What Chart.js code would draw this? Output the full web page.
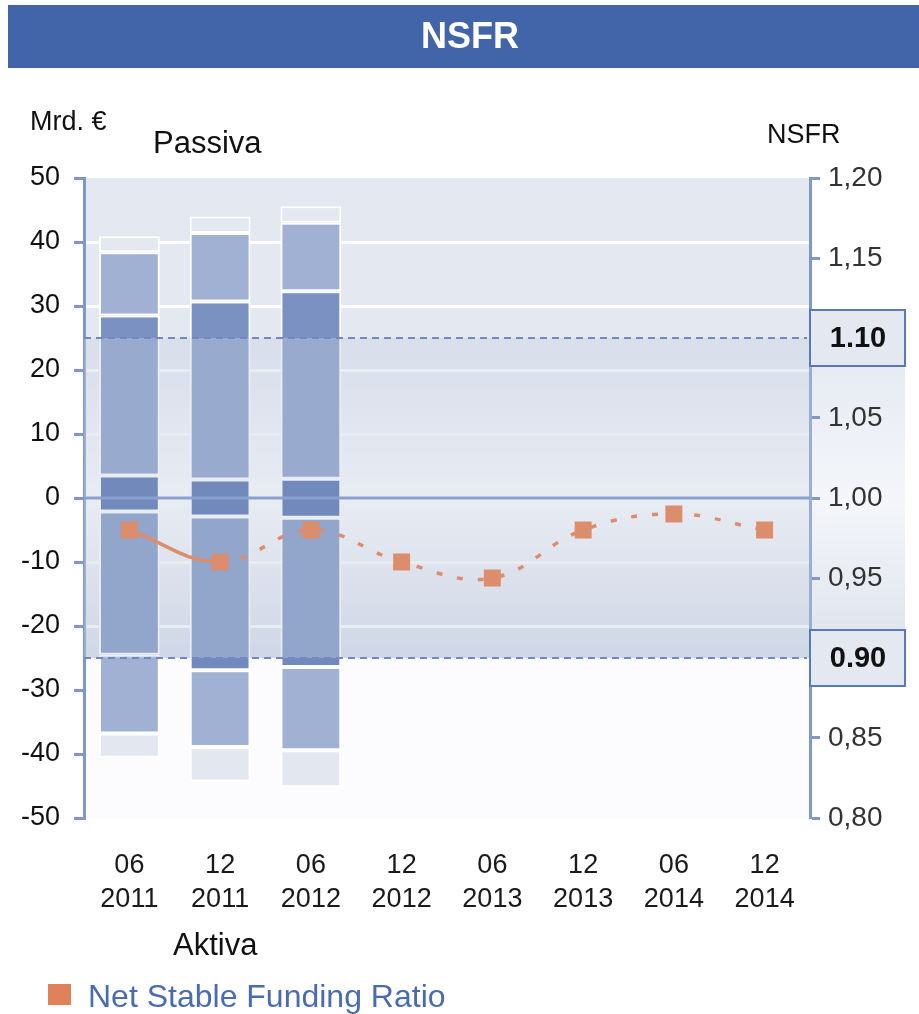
<!DOCTYPE html>
<html>
<head>
<meta charset="utf-8">
<script src="https://cdn.jsdelivr.net/npm/chart.js@4/dist/chart.umd.min.js"></script>
<style>
  html, body { margin: 0; padding: 0; background: #ffffff; }
  #wrap { position: relative; width: 919px; height: 1014px; }
</style>
</head>
<body>
<div id="wrap"><canvas id="myChart" width="919" height="1014"></canvas></div>
<script>
// categories (month / year)
const categories = [['06', '2011'], ['12', '2011'], ['06', '2012'], ['12', '2012'],
                    ['06', '2013'], ['12', '2013'], ['06', '2014'], ['12', '2014']];

// NSFR ratio (right axis)
const nsfr = [0.98, 0.96, 0.98, 0.96, 0.95, 0.98, 0.99, 0.98];

// bar segments in Mrd. EUR, [from, to]
// Aktiva (below zero)
const negLight = [[-40.6, -36.8], [-44.3, -38.9], [-45.2, -39.4]];
const negMid   = [[-36.8, -24.5], [-38.9, -26.9], [-39.4, -26.4]];
const negDark  = [[-24.5, -2.1],  [-26.9, -2.9],  [-26.4, -3.1]];
// block around zero
const core     = [[-2.1, 3.5],    [-2.9, 2.9],    [-3.1, 3.0]];
// Passiva (above zero)
const posDark  = [[3.5, 28.5],    [2.9, 30.7],    [3.0, 32.3]];
const posMid   = [[28.5, 38.4],   [30.7, 41.4],   [32.3, 43.0]];
const posTop   = [[38.4, 40.9],   [41.4, 44.0],   [43.0, 45.6]];

const fontFam = "'Liberation Sans', Arial, sans-serif";
const axisBlue = '#7f98c9';
const orange = '#dc8d6c';

function barSet(label, data, color) {
    return {
        type: 'bar',
        label: label,
        data: data,
        backgroundColor: color,
        borderColor: '#ffffff',
        borderWidth: 2,
        borderSkipped: false,
        grouped: false,
        barPercentage: 0.67,
        categoryPercentage: 1,
        yAxisID: 'y',
        order: 1
    };
}

// background, band overlay, reference lines and texts
const nsfrDecor = {
    id: 'nsfrDecor',
    beforeDraw(chart) {
        const { ctx, chartArea: { left, right, top, bottom }, scales: { y } } = chart;
        const yHi = y.getPixelForValue(25);
        const yLo = y.getPixelForValue(-25);
        ctx.save();
        ctx.fillStyle = '#e4e8f1';
        ctx.fillRect(left, top, right - left, yHi - top);

        let g = ctx.createLinearGradient(0, yHi, 0, yLo);
        g.addColorStop(0, '#e4e8f1');
        g.addColorStop(0.5, '#ffffff');
        g.addColorStop(1, '#d6dce9');
        ctx.fillStyle = g;
        ctx.fillRect(left, yHi, right - left, yLo - yHi);

        // strip behind the right labels
        g = ctx.createLinearGradient(0, yHi, 0, yLo);
        g.addColorStop(0, '#e4e8f1');
        g.addColorStop(0.5, '#f4f6fa');
        g.addColorStop(1, '#dde2ec');
        ctx.fillStyle = g;
        ctx.fillRect(right, yHi, 95, yLo - yHi);

        ctx.fillStyle = '#fcfcfe';
        ctx.fillRect(left, yLo, right - left, bottom - yLo);
        ctx.restore();
    },
    beforeDatasetDraw(chart, args) {
        if (args.meta.type !== 'line') return;
        const { ctx, chartArea: { left, right }, scales: { y } } = chart;
        const yHi = y.getPixelForValue(25);
        const yLo = y.getPixelForValue(-25);
        const y0 = y.getPixelForValue(0);
        ctx.save();
        // translucent band between 0.90 and 1.10
        ctx.fillStyle = 'rgba(197, 208, 225, 0.4)';
        ctx.fillRect(left, yHi, right - left + 2, yLo - yHi);

        // zero line
        ctx.strokeStyle = '#8aa1cf';
        ctx.lineWidth = 3;
        ctx.beginPath();
        ctx.moveTo(left, y0);
        ctx.lineTo(right, y0);
        ctx.stroke();

        // dashed limits
        ctx.strokeStyle = '#7288c0';
        ctx.lineWidth = 2;
        ctx.setLineDash([7, 5]);
        [yHi, yLo].forEach(py => {
            ctx.beginPath();
            ctx.moveTo(left, py);
            ctx.lineTo(right - 3, py);
            ctx.stroke();
        });
        ctx.restore();
    },
    afterDraw(chart) {
        const { ctx, chartArea: { right }, scales: { y1 } } = chart;
        ctx.save();

        // boxed limit labels
        [[1.10, '1.10'], [0.90, '0.90']].forEach(([v, txt]) => {
            const py = y1.getPixelForValue(v);
            ctx.fillStyle = '#e4e8f1';
            ctx.fillRect(right, py - 28, 95, 56);
            ctx.strokeStyle = '#5b78b6';
            ctx.lineWidth = 2;
            ctx.strokeRect(right, py - 28, 95, 56);
            ctx.fillStyle = '#111111';
            ctx.font = `bold 29px ${fontFam}`;
            ctx.textAlign = 'center';
            ctx.textBaseline = 'middle';
            ctx.fillText(txt, right + 48, py + 1);
        });

        // title bar
        ctx.fillStyle = '#4264a8';
        ctx.fillRect(8, 5, 911, 63);
        ctx.fillStyle = '#ffffff';
        ctx.font = `bold 36px ${fontFam}`;
        ctx.textAlign = 'center';
        ctx.textBaseline = 'middle';
        ctx.fillText('NSFR', 470, 38);

        ctx.textAlign = 'left';
        ctx.fillStyle = '#111111';
        ctx.font = `27px ${fontFam}`;
        ctx.fillText('Mrd. €', 30, 123);
        ctx.fillText('NSFR', 767, 136);
        ctx.font = `31px ${fontFam}`;
        ctx.fillText('Passiva', 153, 144);
        ctx.fillText('Aktiva', 173, 946);

        // legend
        ctx.fillStyle = '#df825c';
        ctx.fillRect(48, 984, 23, 21);
        ctx.fillStyle = '#4a6bb0';
        ctx.font = `32px ${fontFam}`;
        ctx.fillText('Net Stable Funding Ratio', 88, 998);
        ctx.restore();
    }
};

const data = {
    labels: categories,
    datasets: [
        {
            type: 'line',
            label: 'Net Stable Funding Ratio',
            data: nsfr,
            yAxisID: 'y1',
            order: 0,
            borderColor: orange,
            borderWidth: 3.5,
            borderCapStyle: 'butt',
            tension: 0.4,
            pointStyle: 'rect',
            pointRadius: 12,
            pointBorderWidth: 0,
            pointBackgroundColor: orange,
            segment: {
                borderDash: ctx => ctx.p0DataIndex >= 1 ? [6, 15] : undefined
            }
        },
        barSet('negLight', negLight, '#e3e7f0'),
        barSet('negMid', negMid, '#a0b1d3'),
        barSet('negDark', negDark, '#7189bd'),
        barSet('core', core, '#3a5aa2'),
        barSet('posDark', posDark, '#7a91c1'),
        barSet('posMid', posMid, '#a0b1d3'),
        barSet('posTop', posTop, '#e4e8f1')
    ]
};

const config = {
    type: 'bar',
    data: data,
    options: {
        responsive: false,
        maintainAspectRatio: false,
        animation: false,
        events: [],
        layout: { padding: { top: 178, left: 0, right: 0, bottom: 0 } },
        scales: {
            x: {
                grid: { display: false },
                border: { display: false },
                ticks: {
                    color: '#1a1a1a',
                    font: { size: 27, family: fontFam, lineHeight: 1.25 },
                    padding: 23,
                    maxRotation: 0,
                    autoSkip: false
                },
                afterFit(s) { s.height = 196; }
            },
            y: {
                position: 'left',
                min: -50,
                max: 50,
                ticks: {
                    stepSize: 10,
                    color: '#111111',
                    font: { size: 27, family: fontFam },
                    padding: 14
                },
                grid: {
                    color: ctx => {
                        const v = ctx.tick ? ctx.tick.value : null;
                        return (v === null || v >= 50 || v < -25 || v === 0) ? 'rgba(0,0,0,0)' : '#ffffff';
                    },
                    lineWidth: 3,
                    tickColor: axisBlue,
                    tickLength: 10,
                    tickWidth: 3
                },
                border: { color: axisBlue, width: 3 },
                afterFit(s) { s.width = 84; }
            },
            y1: {
                position: 'right',
                min: 0.8,
                max: 1.2,
                ticks: {
                    stepSize: 0.05,
                    color: '#333333',
                    font: { size: 28, family: fontFam },
                    padding: 8,
                    callback: v => (Math.abs(v - 1.1) < 1e-6 || Math.abs(v - 0.9) < 1e-6)
                        ? '' : v.toFixed(2).replace('.', ',')
                },
                grid: {
                    drawOnChartArea: false,
                    tickColor: axisBlue,
                    tickLength: 10,
                    tickWidth: 3
                },
                border: { color: axisBlue, width: 3 },
                afterFit(s) { s.width = 109; }
            }
        },
        plugins: {
            legend: { display: false },
            title: { display: false },
            tooltip: { enabled: false }
        }
    },
    plugins: [nsfrDecor]
};

const myChart = new Chart(document.getElementById('myChart'), config);
</script>
</body>
</html>
